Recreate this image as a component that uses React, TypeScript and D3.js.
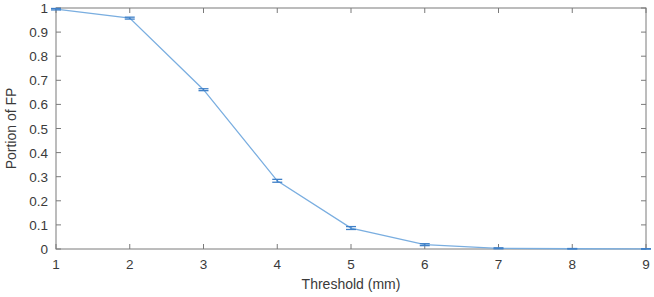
import React from "react";
import * as d3 from "d3";

const thresholds = [1, 2, 3, 4, 5, 6, 7, 8, 9];
const portionFP = [0.995, 0.958, 0.661, 0.283, 0.087, 0.018, 0.003, 0.001, 0.0005];
const errFP = [0.003, 0.004, 0.004, 0.006, 0.006, 0.004, 0.002, 0.001, 0.001];
const xTicks = [1, 2, 3, 4, 5, 6, 7, 8, 9];
const yTicks = [0, 0.1, 0.2, 0.3, 0.4, 0.5, 0.6, 0.7, 0.8, 0.9, 1];

const W = 654, H = 297;
const L = 56, R = 646, T = 8, B = 249;

export default function App() {
  const x = d3.scaleLinear().domain([1, 9]).range([L, R]);
  const y = d3.scaleLinear().domain([0, 1]).range([B, T]);
  const line = d3.line<number>().x((_, i) => x(thresholds[i])).y((d) => y(d));
  const axisColor = "#7a7a7a";
  const textColor = "#3a3a3a";
  const font = "Liberation Sans, Arial, sans-serif";
  return (
    <svg width={W} height={H} style={{ position: "absolute", left: 0, top: 0, background: "#fff" }}>
      <rect x={L} y={T} width={R - L} height={B - T} fill="none" stroke={axisColor} strokeWidth={1} />
      {xTicks.map((t) => (
        <g key={"x" + t}>
          <line x1={x(t)} x2={x(t)} y1={B} y2={B - 5} stroke={axisColor} />
          <line x1={x(t)} x2={x(t)} y1={T} y2={T + 5} stroke={axisColor} />
          <text x={x(t)} y={B + 20} textAnchor="middle" fontSize={13.5} fill={textColor} fontFamily={font}>{t}</text>
        </g>
      ))}
      {yTicks.map((t) => (
        <g key={"y" + t}>
          <line x1={L} x2={L + 5} y1={y(t)} y2={y(t)} stroke={axisColor} />
          <line x1={R} x2={R - 5} y1={y(t)} y2={y(t)} stroke={axisColor} />
          <text x={L - 8} y={y(t) + 5} textAnchor="end" fontSize={13.5} fill={textColor} fontFamily={font}>{t}</text>
        </g>
      ))}
      <text x={(L + R) / 2} y={289} textAnchor="middle" fontSize={14} fill={textColor} fontFamily={font}>Threshold (mm)</text>
      <text transform={`translate(16,${(T + B) / 2}) rotate(-90)`} textAnchor="middle" fontSize={14} fill={textColor} fontFamily={font}>Portion of FP</text>
      <path d={line(portionFP) || ""} fill="none" stroke="#7aaee0" strokeWidth={1.3} />
      {portionFP.map((v, i) => {
        const cx = x(thresholds[i]);
        const e = errFP[i];
        return (
          <g key={"e" + i} stroke="#3f80c8" strokeWidth={1.3}>
            <line x1={cx} x2={cx} y1={y(v - e)} y2={y(v + e)} />
            <line x1={cx - 5} x2={cx + 5} y1={y(v - e)} y2={y(v - e)} />
            <line x1={cx - 5} x2={cx + 5} y1={y(v + e)} y2={y(v + e)} />
          </g>
        );
      })}
    </svg>
  );
}
